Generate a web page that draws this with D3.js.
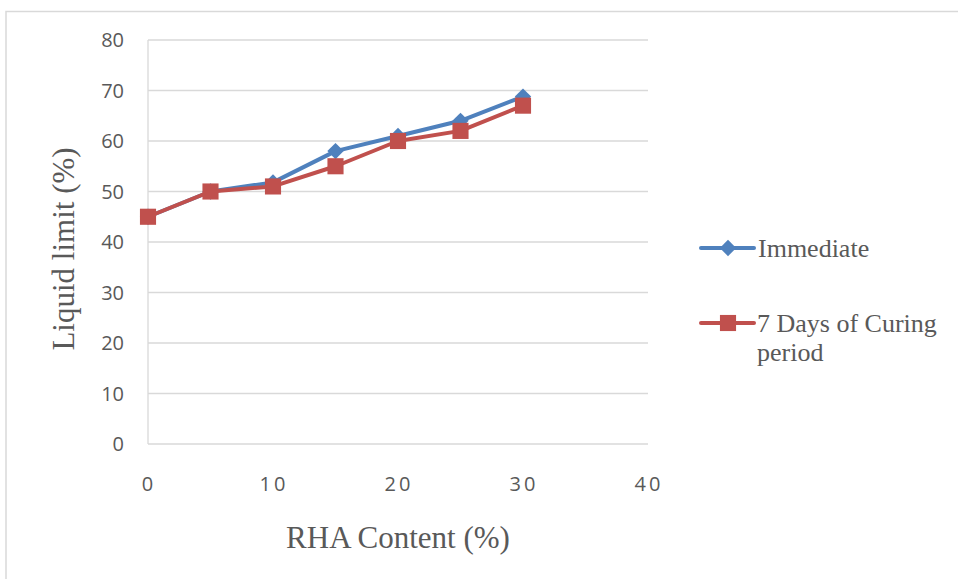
<!DOCTYPE html>
<html><head><meta charset="utf-8">
<script src="https://cdnjs.cloudflare.com/ajax/libs/d3/7.8.5/d3.min.js"></script>
<style>body{margin:0;background:#fff}svg{display:block}</style>
</head><body>
<script>
const xValues = [0, 5, 10, 15, 20, 25, 30];
const immediate = [45, 50, 51.8, 58, 61, 64, 68.8];
const curing7 = [45, 50, 51, 55, 60, 62, 67];
const seriesNames = ["Immediate", "7 Days of Curing period"];
const xTicks = [0, 10, 20, 30, 40];
const yTicks = [0, 10, 20, 30, 40, 50, 60, 70, 80];
const colors = ["#4f81bd", "#c0504d"];

const W = 958, H = 579;
const svg = d3.select("body").append("svg").attr("width", W).attr("height", H);

// outer frame
svg.append("path").attr("d", `M6,${H} L6,11.5 L${W},11.5`).attr("fill","none").attr("stroke","#d9d9d9").attr("stroke-width",1.5);

const x = d3.scaleLinear().domain([0, 40]).range([148, 648]);
const y = d3.scaleLinear().domain([0, 80]).range([444, 40]);

// gridlines
svg.append("g").selectAll("line").data(yTicks).join("line")
  .attr("x1", x(0)).attr("x2", x(40)).attr("y1", d => y(d)).attr("y2", d => y(d))
  .attr("stroke", "#d9d9d9").attr("stroke-width", 1.3);
svg.append("line").attr("x1", x(0)).attr("x2", x(0)).attr("y1", y(0)).attr("y2", y(80))
  .attr("stroke", "#d9d9d9").attr("stroke-width", 1.3);

const tickFont = "'Open Sans', 'Noto Sans', sans-serif";
// y tick labels
svg.append("g").selectAll("text").data(yTicks).join("text")
  .attr("x", 124).attr("y", d => y(d)).attr("dy", "0.35em").attr("text-anchor", "end")
  .attr("font-family", tickFont).attr("font-size", 20).attr("fill", "#595959")
  .text(d => d);

// x tick labels
svg.append("g").selectAll("text").data(xTicks).join("text")
  .attr("x", d => x(d) + 1).attr("y", 491).attr("text-anchor", "middle")
  .attr("font-family", tickFont).attr("font-size", 20).attr("fill", "#595959")
  .attr("letter-spacing", "3px")
  .text(d => d);

const serif = "'Liberation Serif', 'Times New Roman', serif";
// axis titles
svg.append("text").attr("x", 398).attr("y", 548).attr("text-anchor", "middle")
  .attr("font-family", serif).attr("font-size", 31).attr("fill", "#595959")
  .text("RHA Content (%)");
svg.append("text").attr("transform", "translate(74,249) rotate(-90)").attr("text-anchor", "middle")
  .attr("font-family", serif).attr("font-size", 31).attr("fill", "#595959")
  .text("Liquid limit (%)");

const line = d3.line().x(d => x(d[0])).y(d => y(d[1]));
const data = [immediate, curing7].map(s => xValues.map((v, i) => [v, s[i]]));

const diamond = d3.symbol().type(d3.symbolDiamond2).size(170);
const square = d3.symbol().type(d3.symbolSquare).size(260);

data.forEach((pts, i) => {
  svg.append("path").datum(pts).attr("d", line).attr("fill", "none")
    .attr("stroke", colors[i]).attr("stroke-width", 4).attr("stroke-linejoin", "round");
  svg.append("g").selectAll("path").data(pts).join("path")
    .attr("transform", d => `translate(${x(d[0])},${y(d[1])})`)
    .attr("d", i === 0 ? diamond : square).attr("fill", colors[i]);
});

// legend
const lg = svg.append("g");
const legY = [248, 323];
legY.forEach((ly, i) => {
  lg.append("line").attr("x1", 701).attr("x2", 754).attr("y1", ly).attr("y2", ly)
    .attr("stroke", colors[i]).attr("stroke-width", 4).attr("stroke-linecap", "round");
  lg.append("path").attr("transform", `translate(728,${ly})`).attr("d", i === 0 ? diamond : square).attr("fill", colors[i]);
});
lg.append("text").attr("x", 758).attr("y", 257).attr("font-family", serif).attr("font-size", 26).attr("fill", "#595959").text(seriesNames[0]);
const t2 = lg.append("text").attr("x", 757).attr("y", 332).attr("font-family", serif).attr("font-size", 26).attr("fill", "#595959");
t2.append("tspan").attr("x", 757).text("7 Days of Curing");
t2.append("tspan").attr("x", 757).attr("y", 361).text("period");
</script>
</body></html>
